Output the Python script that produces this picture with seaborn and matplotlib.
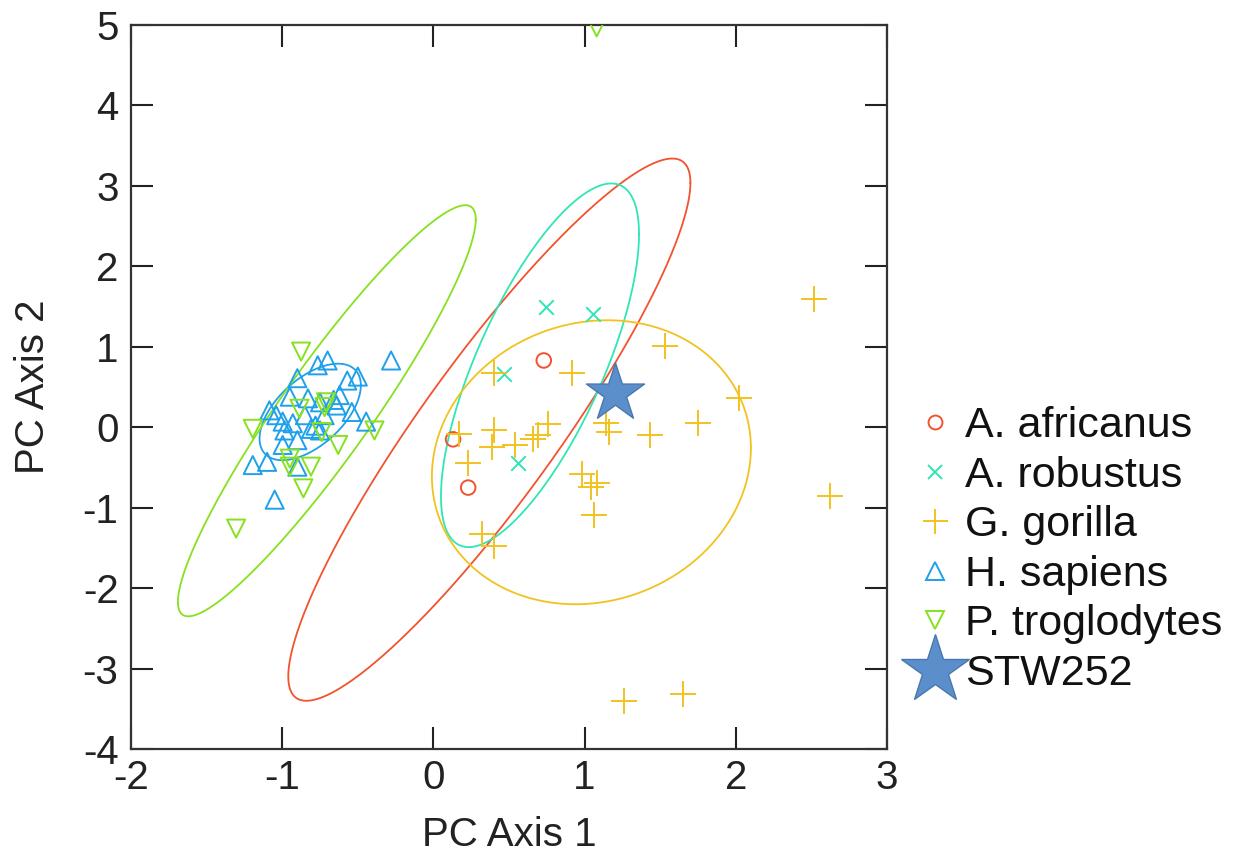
import numpy as np
import pandas as pd
import matplotlib
matplotlib.use("Agg")
import matplotlib.pyplot as plt
import seaborn as sns
from matplotlib.lines import Line2D

# ---------------- data ----------------
africanus_x = [0.73, 0.13, 0.23]
africanus_y = [0.83, -0.15, -0.75]

robustus_x = [0.745, 1.054, 0.47, 0.558]
robustus_y = [1.49, 1.405, 0.66, -0.44]

gorilla_x = [0.40, 0.92, 0.76, 0.17, 0.40, 0.39, 0.54, 0.66, 0.69, 0.23, 0.98, 1.04, 1.08,
             1.06, 0.32, 0.40, 1.14, 1.16, 1.53, 2.02, 1.75, 1.43, 2.52, 2.62, 1.26, 1.65]
gorilla_y = [0.67, 0.68, 0.04, -0.08, -0.04, -0.25, -0.22, -0.15, -0.10, -0.45, -0.58, -0.74, -0.69,
             -1.09, -1.33, -1.48, 0.05, -0.06, 1.01, 0.36, 0.05, -0.10, 1.59, -0.86, -3.40, -3.31]

sapiens_x = [-0.28, -0.765, -0.70, -0.90, -0.57, -0.50, -0.95, -0.83, -0.75, -0.62, -1.085, -1.04,
             -0.85, -0.72, -0.54, -0.997, -0.985, -0.90, -0.997, -0.81, -0.75, -0.445, -1.195, -1.10,
             -0.90, -1.05, -0.93, -0.66, -0.78, -0.64]
sapiens_y = [0.83, 0.77, 0.83, 0.61, 0.58, 0.63, 0.38, 0.36, 0.31, 0.40, 0.21, 0.15,
             0.15, 0.15, 0.19, 0.07, -0.04, -0.16, -0.22, -0.02, -0.04, 0.07, -0.47, -0.43,
             -0.49, -0.90, 0.05, 0.34, 0.02, 0.27]

troglodytes_x = [-0.875, -1.195, -0.886, -0.71, -0.74, -0.63, -0.39, -0.95, -0.95, -0.81, -0.86,
                 -1.305, 1.08, -0.72]
troglodytes_y = [0.94, -0.02, 0.23, 0.31, -0.06, -0.22, -0.04, -0.39, -0.49, -0.49, -0.76,
                 -1.26, 4.97, 0.25]

stw_x = [1.204]
stw_y = [0.42]

groups = ["A. africanus", "A. robustus", "G. gorilla", "H. sapiens", "P. troglodytes"]
# ellipse parameters: centre x, centre y, half-extent x, half-extent y, correlation
ell_cx = [0.37, 0.705, 1.045, -0.815, -0.705]
ell_cy = [-0.03, 0.77, -0.435, 0.19, 0.205]
ell_sx = [1.33, 0.655, 1.055, 0.335, 0.985]
ell_sy = [3.37, 2.26, 1.765, 0.60, 2.555]
ell_rho = [0.91, 0.72, 0.10, 0.55, 0.93]

x_ticks = [-2, -1, 0, 1, 2, 3]
y_ticks = [-4, -3, -2, -1, 0, 1, 2, 3, 4, 5]

# ---------------- style ----------------
colors = ["#f2522e", "#2fe6b4", "#f2c21e", "#1fa0ea", "#86e11f"]
star_face = "#5b8fcb"
star_edge = "#4a78ad"

sns.set_theme(style="white")
plt.rcParams["font.family"] = ["Liberation Sans", "DejaVu Sans"]

fig = plt.figure(figsize=(12.54, 8.61), dpi=100)
ax = fig.add_axes([0.1045, 0.130, 0.6028, 0.841])

pts = pd.concat([
    pd.DataFrame({"x": africanus_x, "y": africanus_y, "g": groups[0]}),
    pd.DataFrame({"x": robustus_x, "y": robustus_y, "g": groups[1]}),
    pd.DataFrame({"x": gorilla_x, "y": gorilla_y, "g": groups[2]}),
    pd.DataFrame({"x": sapiens_x, "y": sapiens_y, "g": groups[3]}),
    pd.DataFrame({"x": troglodytes_x, "y": troglodytes_y, "g": groups[4]}),
], ignore_index=True)

# ellipses
t = np.linspace(0, 2 * np.pi, 400)
for i, g in enumerate(groups):
    ex = ell_cx[i] + ell_sx[i] * np.cos(t)
    ey = ell_cy[i] + ell_sy[i] * (ell_rho[i] * np.cos(t) + np.sqrt(1 - ell_rho[i] ** 2) * np.sin(t))
    sns.lineplot(x=ex, y=ey, sort=False, estimator=None, ax=ax, color=colors[i], lw=1.3)

marker_spec = {
    groups[0]: dict(marker="o", s=110, open=True),
    groups[1]: dict(marker="x", s=110, open=False),
    groups[2]: dict(marker="+", s=360, open=False),
    groups[3]: dict(marker="^", s=170, open=True),
    groups[4]: dict(marker="v", s=170, open=True),
}
for i, g in enumerate(groups):
    d = pts[pts["g"] == g]
    spec = marker_spec[g]
    if spec["open"]:
        sns.scatterplot(data=d, x="x", y="y", ax=ax, marker=spec["marker"], s=spec["s"],
                        facecolor="none", edgecolor=colors[i], linewidth=1.4, zorder=3)
    else:
        sns.scatterplot(data=d, x="x", y="y", ax=ax, marker=spec["marker"], s=spec["s"],
                        color=colors[i], linewidth=1.4, zorder=3)

sns.scatterplot(x=stw_x, y=stw_y, ax=ax, marker="*", s=44 ** 2, color=star_face,
                edgecolor=star_edge, linewidth=1.0, zorder=4)

ax.set_xlim(-2, 3)
ax.set_ylim(-4, 5)
ax.set_xticks(x_ticks)
ax.set_yticks(y_ticks)
ax.set_xticklabels([str(v) for v in x_ticks])
ax.set_yticklabels([str(v) for v in y_ticks])
ax.tick_params(direction="in", length=16, width=1.5, top=True, right=True,
               bottom=True, left=True, labelsize=29, colors="#222222")
ax.tick_params(axis="x", pad=7)
ax.tick_params(axis="y", pad=9)
for sp in ax.spines.values():
    sp.set_color("#333333")
    sp.set_linewidth(1.6)
ax.set_xlabel("PC Axis 1", fontsize=29, labelpad=14, color="#222222")
ax.set_ylabel("PC Axis 2", fontsize=29, labelpad=22, color="#222222")
ax.grid(False)

handles = [
    Line2D([], [], ls="none", marker="o", ms=10, mfc="none", mec=colors[0], mew=1.4),
    Line2D([], [], ls="none", marker="x", ms=10, color=colors[1], mew=1.4),
    Line2D([], [], ls="none", marker="+", ms=18, color=colors[2], mew=1.4),
    Line2D([], [], ls="none", marker="^", ms=13, mfc="none", mec=colors[3], mew=1.4),
    Line2D([], [], ls="none", marker="v", ms=13, mfc="none", mec=colors[4], mew=1.4),
    Line2D([], [], ls="none", marker="*", ms=52, mfc=star_face, mec=star_edge, mew=1.0),
]
leg = fig.legend(handles, groups + ["STW252"], loc="upper left",
                 bbox_to_anchor=(0.711, 0.553), frameon=False, fontsize=31,
                 handlelength=1.0, handletextpad=0.2, labelspacing=0.22, borderpad=0)
for txt in leg.get_texts():
    txt.set_color("#111111")

fig.savefig("out.png", dpi=100)
